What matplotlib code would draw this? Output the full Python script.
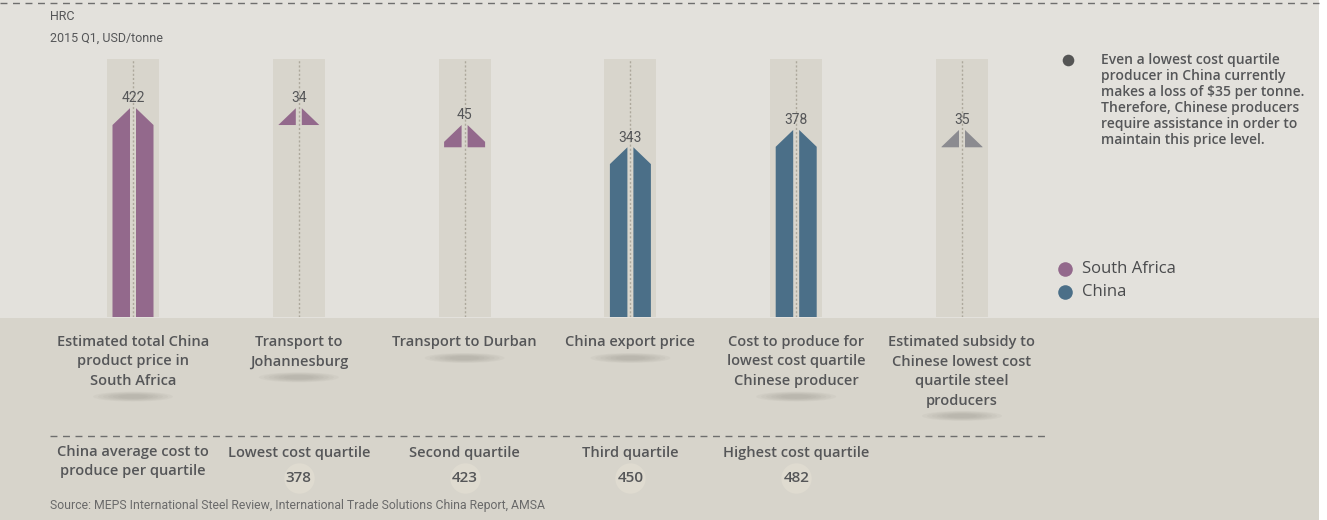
import matplotlib
matplotlib.use('Agg')
import matplotlib.pyplot as plt
from matplotlib import transforms
from matplotlib.patches import Polygon, Ellipse, Rectangle

# data
categories = ['Estimated total China\nproduct price in\nSouth Africa',
              'Transport to\nJohannesburg',
              'Transport to Durban',
              'China export price',
              'Cost to produce for\nlowest cost quartile\nChinese producer',
              'Estimated subsidy to\nChinese lowest cost\nquartile steel\nproducers']
values = [422, 34, 45, 343, 378, 35]
bases = [0, 388, 343, 0, 0, 343]
groups = ['South Africa', 'South Africa', 'South Africa', 'China', 'China', 'Subsidy']

quartile_names = ['Lowest cost quartile', 'Second quartile', 'Third quartile', 'Highest cost quartile']
quartile_costs = [378, 423, 450, 482]

colors = {'South Africa': '#93698C', 'China': '#4B6F88', 'Subsidy': '#8B8B90'}
TXT = '#555658'
narrow = ['Roboto', 'DejaVu Sans']
plt.rcParams['font.family'] = ['Open Sans', 'DejaVu Sans']

fig = plt.figure(figsize=(13.27, 5.2), dpi=100, facecolor='white')

# background layer in pixel units
bg = fig.add_axes([0, 0, 1, 1])
bg.set_xlim(0, 1327)
bg.set_ylim(520, 0)
bg.axis('off')
bg.add_patch(Rectangle((0, 0), 1319, 318, color='#E3E1DC', lw=0))
bg.add_patch(Rectangle((0, 318), 1319, 202, color='#D7D4CB', lw=0))
bg.plot([0, 1319], [3, 3], color='#6E6E6E', lw=1, dashes=(5, 4))

# chart axes: x = column index, y = USD/tonne
step = 165.8
ymax = 258 / 0.4948
ax = fig.add_axes([0, (520 - 317) / 520, 1, 258 / 520])
ax.set_xlim(-133 / step, (1327 - 133) / step)
ax.set_ylim(0, ymax)
ax.axis('off')
ax.patch.set_alpha(0)

x = list(range(len(values)))
ax.bar(x, ymax, width=52 / step, color='#D8D5CC', zorder=1)
ax.vlines(x, 0, ymax, colors='#ADA89C', lw=1, linestyles=(0, (1.5, 1.5)), zorder=2)

head = 34
wo = 20.5 / step
gi = 3 / step
for i, (v, b, g) in enumerate(zip(values, bases, groups)):
    top = b + v
    shoulder = max(top - head, b)
    for s in (-1, 1):
        pts = [(i + s * gi, b), (i + s * gi, top), (i + s * wo, shoulder), (i + s * wo, b)]
        ax.add_patch(Polygon(pts, closed=True, color=colors[g], lw=0, zorder=3))
    ax.annotate(str(v), (i, top), xytext=(0, 2), textcoords='offset points',
                ha='center', va='bottom', fontsize=10, color=TXT, family=narrow, zorder=4)

trans = transforms.blended_transform_factory(ax.transData, bg.transData)

# category labels with soft shadow underneath
for i, lab in enumerate(categories):
    n = lab.count('\n') + 1
    ax.text(i, 335, lab, transform=trans, ha='center', va='top', fontsize=10.5,
            weight='semibold', color=TXT, linespacing=1.5)
    ys = 342 + (n - 1) * 19.3 + 16
    for k in range(6):
        ax.add_patch(Ellipse((i, ys), (80 - k * 10) / step, 10 - k * 1.2, transform=trans,
                             color='#8E8A80', alpha=0.07, lw=0, clip_on=False))

# quartile table
bg.plot([50, 1046], [436, 436], color='#6E6E6E', lw=1, dashes=(5, 4))
ax.text(0, 445, 'China average cost to\nproduce per quartile', transform=trans, ha='center',
        va='top', fontsize=10.5, weight='semibold', color=TXT, linespacing=1.45)
qx = list(range(1, len(quartile_names) + 1))
ax.scatter(qx, [478] * len(qx), s=480, color='#DFDBD0', transform=trans, clip_on=False, lw=0)
for xi, nm, c in zip(qx, quartile_names, quartile_costs):
    ax.text(xi, 453, nm, transform=trans, ha='center', va='center', fontsize=10.5,
            weight='semibold', color=TXT)
    ax.text(xi, 478, str(c), transform=trans, ha='center', va='center', fontsize=11,
            weight='semibold', color=TXT)

bg.text(50, 505, 'Source: MEPS International Steel Review, International Trade Solutions China Report, AMSA',
        fontsize=8.8, color='#6A6A6A', va='center', family=narrow)

# titles
bg.text(50, 17, 'HRC', fontsize=9, color=TXT, va='center', family=narrow)
bg.text(50, 38, '2015 Q1, USD/tonne', fontsize=9, color=TXT, va='center', family=narrow)

# note
bg.scatter([1068], [60], s=70, color='#555555', lw=0)
bg.text(1101, 53, 'Even a lowest cost quartile\nproducer in China currently\nmakes a loss of $35 per tonne.\n'
        'Therefore, Chinese producers\nrequire assistance in order to\nmaintain this price level.',
        fontsize=10, weight='semibold', color=TXT, va='top', linespacing=1.18)

# legend
for yy, g in zip([269, 292], ['South Africa', 'China']):
    bg.scatter([1065], [yy], s=110, color=colors[g], lw=0)
    bg.text(1082, yy, g, fontsize=12, color='#4A4B4D', va='center', weight='medium')

fig.savefig('out.png', dpi=100, facecolor='white')
